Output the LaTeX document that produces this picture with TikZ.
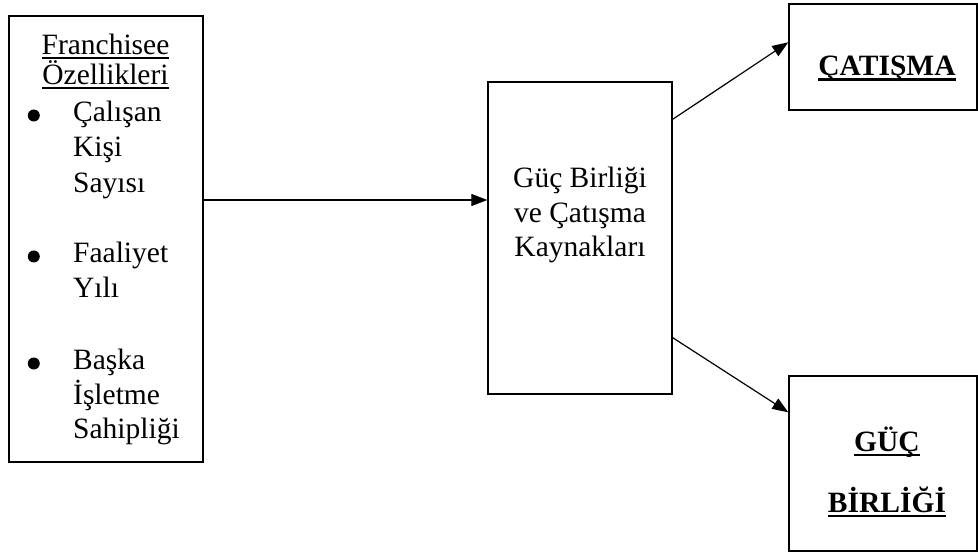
\documentclass[tikz,border=0pt]{standalone}
\usepackage{fontspec}
\setmainfont{Liberation Serif}
\usetikzlibrary{arrows.meta}

% alti cizili yazi
\newcommand{\altcizgi}[2][1.3pt]{\vtop{\hbox{\raisebox{0pt}[\height][0pt]{#2}}\kern2.5pt\hrule height #1}}

\tikzset{
  kutu/.style={draw, line width=1.4pt, inner sep=0pt},
  yazi/.style={font=\fontsize{29.5}{35}\selectfont, inner sep=0pt},
  kalin/.style={font=\fontsize{29.5}{35}\selectfont\bfseries, inner sep=0pt},
  nokta/.style={circle, fill, inner sep=0pt, minimum size=12pt},
  ok/.style={->, line width=1.2pt}
}

\begin{document}
\begin{tikzpicture}[x=1pt, y=-1pt, >={Triangle[length=16pt,width=12pt]}]
\useasboundingbox (0,0) rectangle (978,556);

% Kutular
\node[kutu, minimum width=194pt, minimum height=446pt] (franch) at (106,239) {};
\node[kutu, minimum width=184pt, minimum height=312pt] (kaynak) at (580,238) {};
\node[kutu, minimum width=188pt, minimum height=106pt] (catisma) at (883,57) {};
\node[kutu, minimum width=188pt, minimum height=175pt] (birlik) at (883,463.5) {};

% Franchisee ozellikleri
\node[yazi, anchor=base] (bas1) at (105.5,55) {\altcizgi{Franchisee}};
\node[yazi, anchor=base] (bas2) at (105.5,85) {\altcizgi{Özellikleri}};
\foreach \n/\t/\y in {1/Çalışan/122, 2/Kişi/157, 3/Sayısı/193, 4/Faaliyet/263,
                      5/Yılı/298, 6/Başka/370, 7/İşletme/404, 8/Sahipliği/438}
    \node[yazi, anchor=base west] (m\n) at (73,\y) {\t};
\foreach \n in {1,4,6}
    \node[nokta] (im\n) at ([xshift=25.5pt, yshift=6.5pt]franch.west |- m\n.base) {};

% Orta kutu
\foreach \n/\t/\y in {1/Güç Birliği/188, 2/ve Çatışma/223, 3/Kaynakları/257}
    \node[yazi, anchor=base] (k\n) at (580,\y) {\t};

% Sonuclar
\node[kalin, anchor=base] (t1) at (887,76) {\altcizgi[2.8pt]{ÇATIŞMA}};
\node[kalin, anchor=base] (t2) at (887,451) {\altcizgi[2.8pt]{GÜÇ}};
\node[kalin, anchor=base] (t3) at (887,512) {\altcizgi[2.8pt]{BİRLİĞİ}};

% Oklar
\draw[ok] ([yshift=39pt]franch.east) -- ([yshift=39pt]franch.east -| kaynak.west);
\draw[ok] ([yshift=-38pt]kaynak.north east) -- ([yshift=-39pt]catisma.north west);
\draw[ok] ([yshift=57pt]kaynak.south east) -- ([yshift=-37pt]birlik.north west);

\end{tikzpicture}
\end{document}
